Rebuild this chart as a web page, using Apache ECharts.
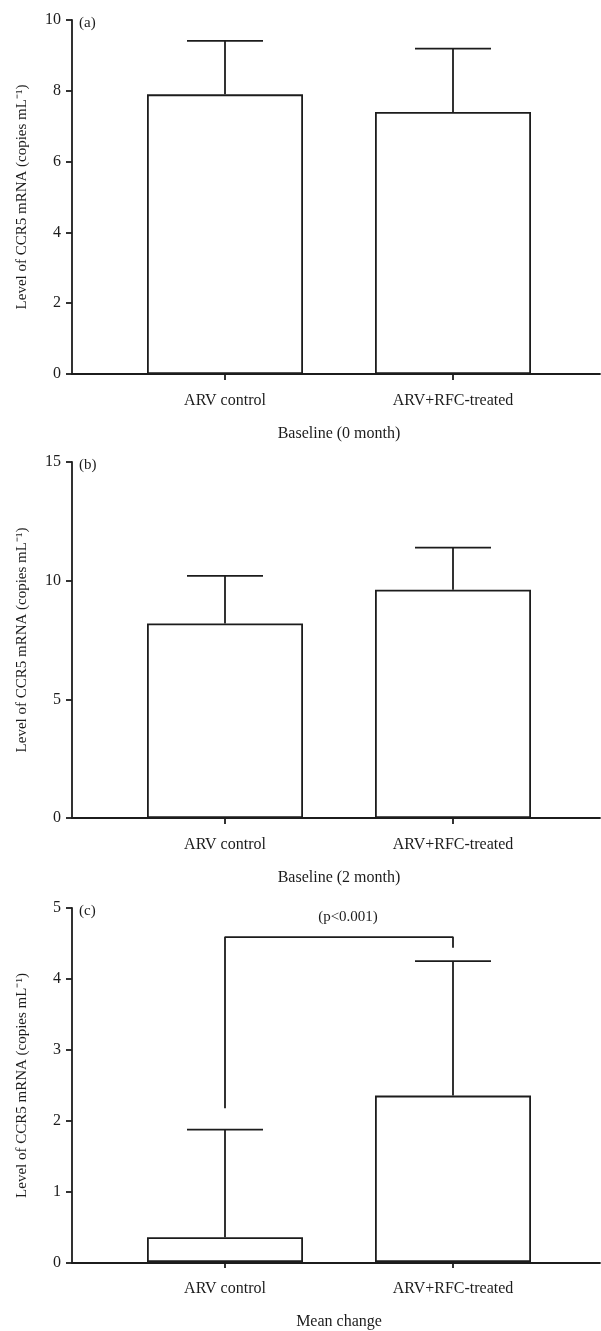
<!DOCTYPE html>
<html>
<head>
<meta charset="utf-8">
<script src="https://cdn.jsdelivr.net/npm/echarts@6/dist/echarts.min.js"></script>
<style>html,body{margin:0;padding:0;background:#fff}#c{width:601px;height:1331px}</style>
</head>
<body>
<div id="c"></div>
<script>
var categories = ['ARV control', 'ARV+RFC-treated'];
var panelLetters = ['(a)', '(b)', '(c)'];
var panelNames = ['Baseline (0 month)', 'Baseline (2 month)', 'Mean change'];
var yAxisName = 'Level of CCR5 mRNA (copies mL\u207B\u00B9)';
var yMax = [10, 15, 5];
var yInterval = [2, 5, 1];
var baseline0Mean = [7.9, 7.4];
var baseline0Upper = [9.41, 9.19];
var baseline2Mean = [8.2, 9.62];
var baseline2Upper = [10.2, 11.39];
var changeMean = [0.35, 2.35];
var changeUpper = [1.87, 4.25];
var bracketValues = [2.17, 4.59, 4.44];
var pValueText = '(p<0.001)';

var means = [baseline0Mean, baseline2Mean, changeMean];
var uppers = [baseline0Upper, baseline2Upper, changeUpper];

var FONT = 'Liberation Serif';
var INK = '#1c1c1c';
var LW = 1.8;
var tops = [20, 462, 908];
var heights = [354, 356, 355];

var grids = [], xAxes = [], yAxes = [], series = [], titles = [];
for (var p = 0; p < 3; p++) {
  grids.push({left: 111, width: 456, top: tops[p], height: heights[p]});
  grids.push({left: 72, right: 1, top: tops[p], height: heights[p]});
  xAxes.push({
    type: 'category', gridIndex: 2 * p, data: categories,
    axisLine: {show: false},
    axisTick: {show: true, alignWithLabel: true, length: 6, lineStyle: {color: INK, width: LW}},
    axisLabel: {color: INK, fontFamily: FONT, fontSize: 16, margin: 19},
    name: panelNames[p], nameLocation: 'middle', nameGap: 52,
    nameTextStyle: {color: INK, fontFamily: FONT, fontSize: 16}
  });
  xAxes.push({
    type: 'value', gridIndex: 2 * p + 1, min: 0, max: 1,
    axisLine: {show: true, lineStyle: {color: INK, width: LW}},
    axisTick: {show: false}, axisLabel: {show: false}, splitLine: {show: false}
  });
  yAxes.push({
    type: 'value', gridIndex: 2 * p, min: 0, max: yMax[p], interval: yInterval[p],
    show: false, splitLine: {show: false}
  });
  yAxes.push({
    type: 'value', gridIndex: 2 * p + 1, min: 0, max: yMax[p], interval: yInterval[p],
    axisLine: {show: true, lineStyle: {color: INK, width: LW}},
    axisTick: {show: true, inside: false, length: 6, lineStyle: {color: INK, width: LW}},
    axisLabel: {color: INK, fontFamily: FONT, fontSize: 16, margin: 11},
    splitLine: {show: false},
    name: yAxisName, nameLocation: 'middle', nameGap: 42, nameRotate: 90,
    nameTextStyle: {color: INK, fontFamily: FONT, fontSize: 15}
  });
  series.push({
    type: 'bar', xAxisIndex: 2 * p, yAxisIndex: 2 * p, data: means[p],
    barWidth: 156, silent: true,
    itemStyle: {color: '#fff', borderColor: INK, borderWidth: LW}
  });
  (function (pp) {
    var errData = means[pp].map(function (m, i) { return [i, m, uppers[pp][i]]; });
    series.push({
      type: 'custom', xAxisIndex: 2 * pp, yAxisIndex: 2 * pp, data: errData, silent: true, z: 5,
      renderItem: function (params, api) {
        var lo = api.coord([api.value(0), api.value(1)]);
        var hi = api.coord([api.value(0), api.value(2)]);
        var half = api.size([1, 0])[0] / 6;
        var st = {stroke: INK, lineWidth: LW};
        return {type: 'group', children: [
          {type: 'line', shape: {x1: lo[0], y1: lo[1], x2: hi[0], y2: hi[1]}, style: st},
          {type: 'line', shape: {x1: hi[0] - half, y1: hi[1], x2: hi[0] + half, y2: hi[1]}, style: st}
        ]};
      }
    });
  })(p);
  titles.push({
    text: panelLetters[p], left: 74, top: tops[p] - 9,
    textStyle: {color: INK, fontFamily: FONT, fontSize: 15, fontWeight: 'normal'}
  });
}
series.push({
  type: 'line', xAxisIndex: 4, yAxisIndex: 4, silent: true, symbol: 'none',
  data: [[0, bracketValues[0]], [0, bracketValues[1]], [1, bracketValues[1]], [1, bracketValues[2]]],
  lineStyle: {color: INK, width: LW}
});
titles.push({
  text: pValueText, left: 343, top: 905, textAlign: 'center',
  textStyle: {color: INK, fontFamily: FONT, fontSize: 15, fontWeight: 'normal'}
});

var chart = echarts.init(document.getElementById('c'), null, {renderer: 'canvas'});
chart.setOption({
  backgroundColor: '#fff',
  animation: false,
  title: titles,
  grid: grids,
  xAxis: xAxes,
  yAxis: yAxes,
  series: series
});
</script>
</body>
</html>
